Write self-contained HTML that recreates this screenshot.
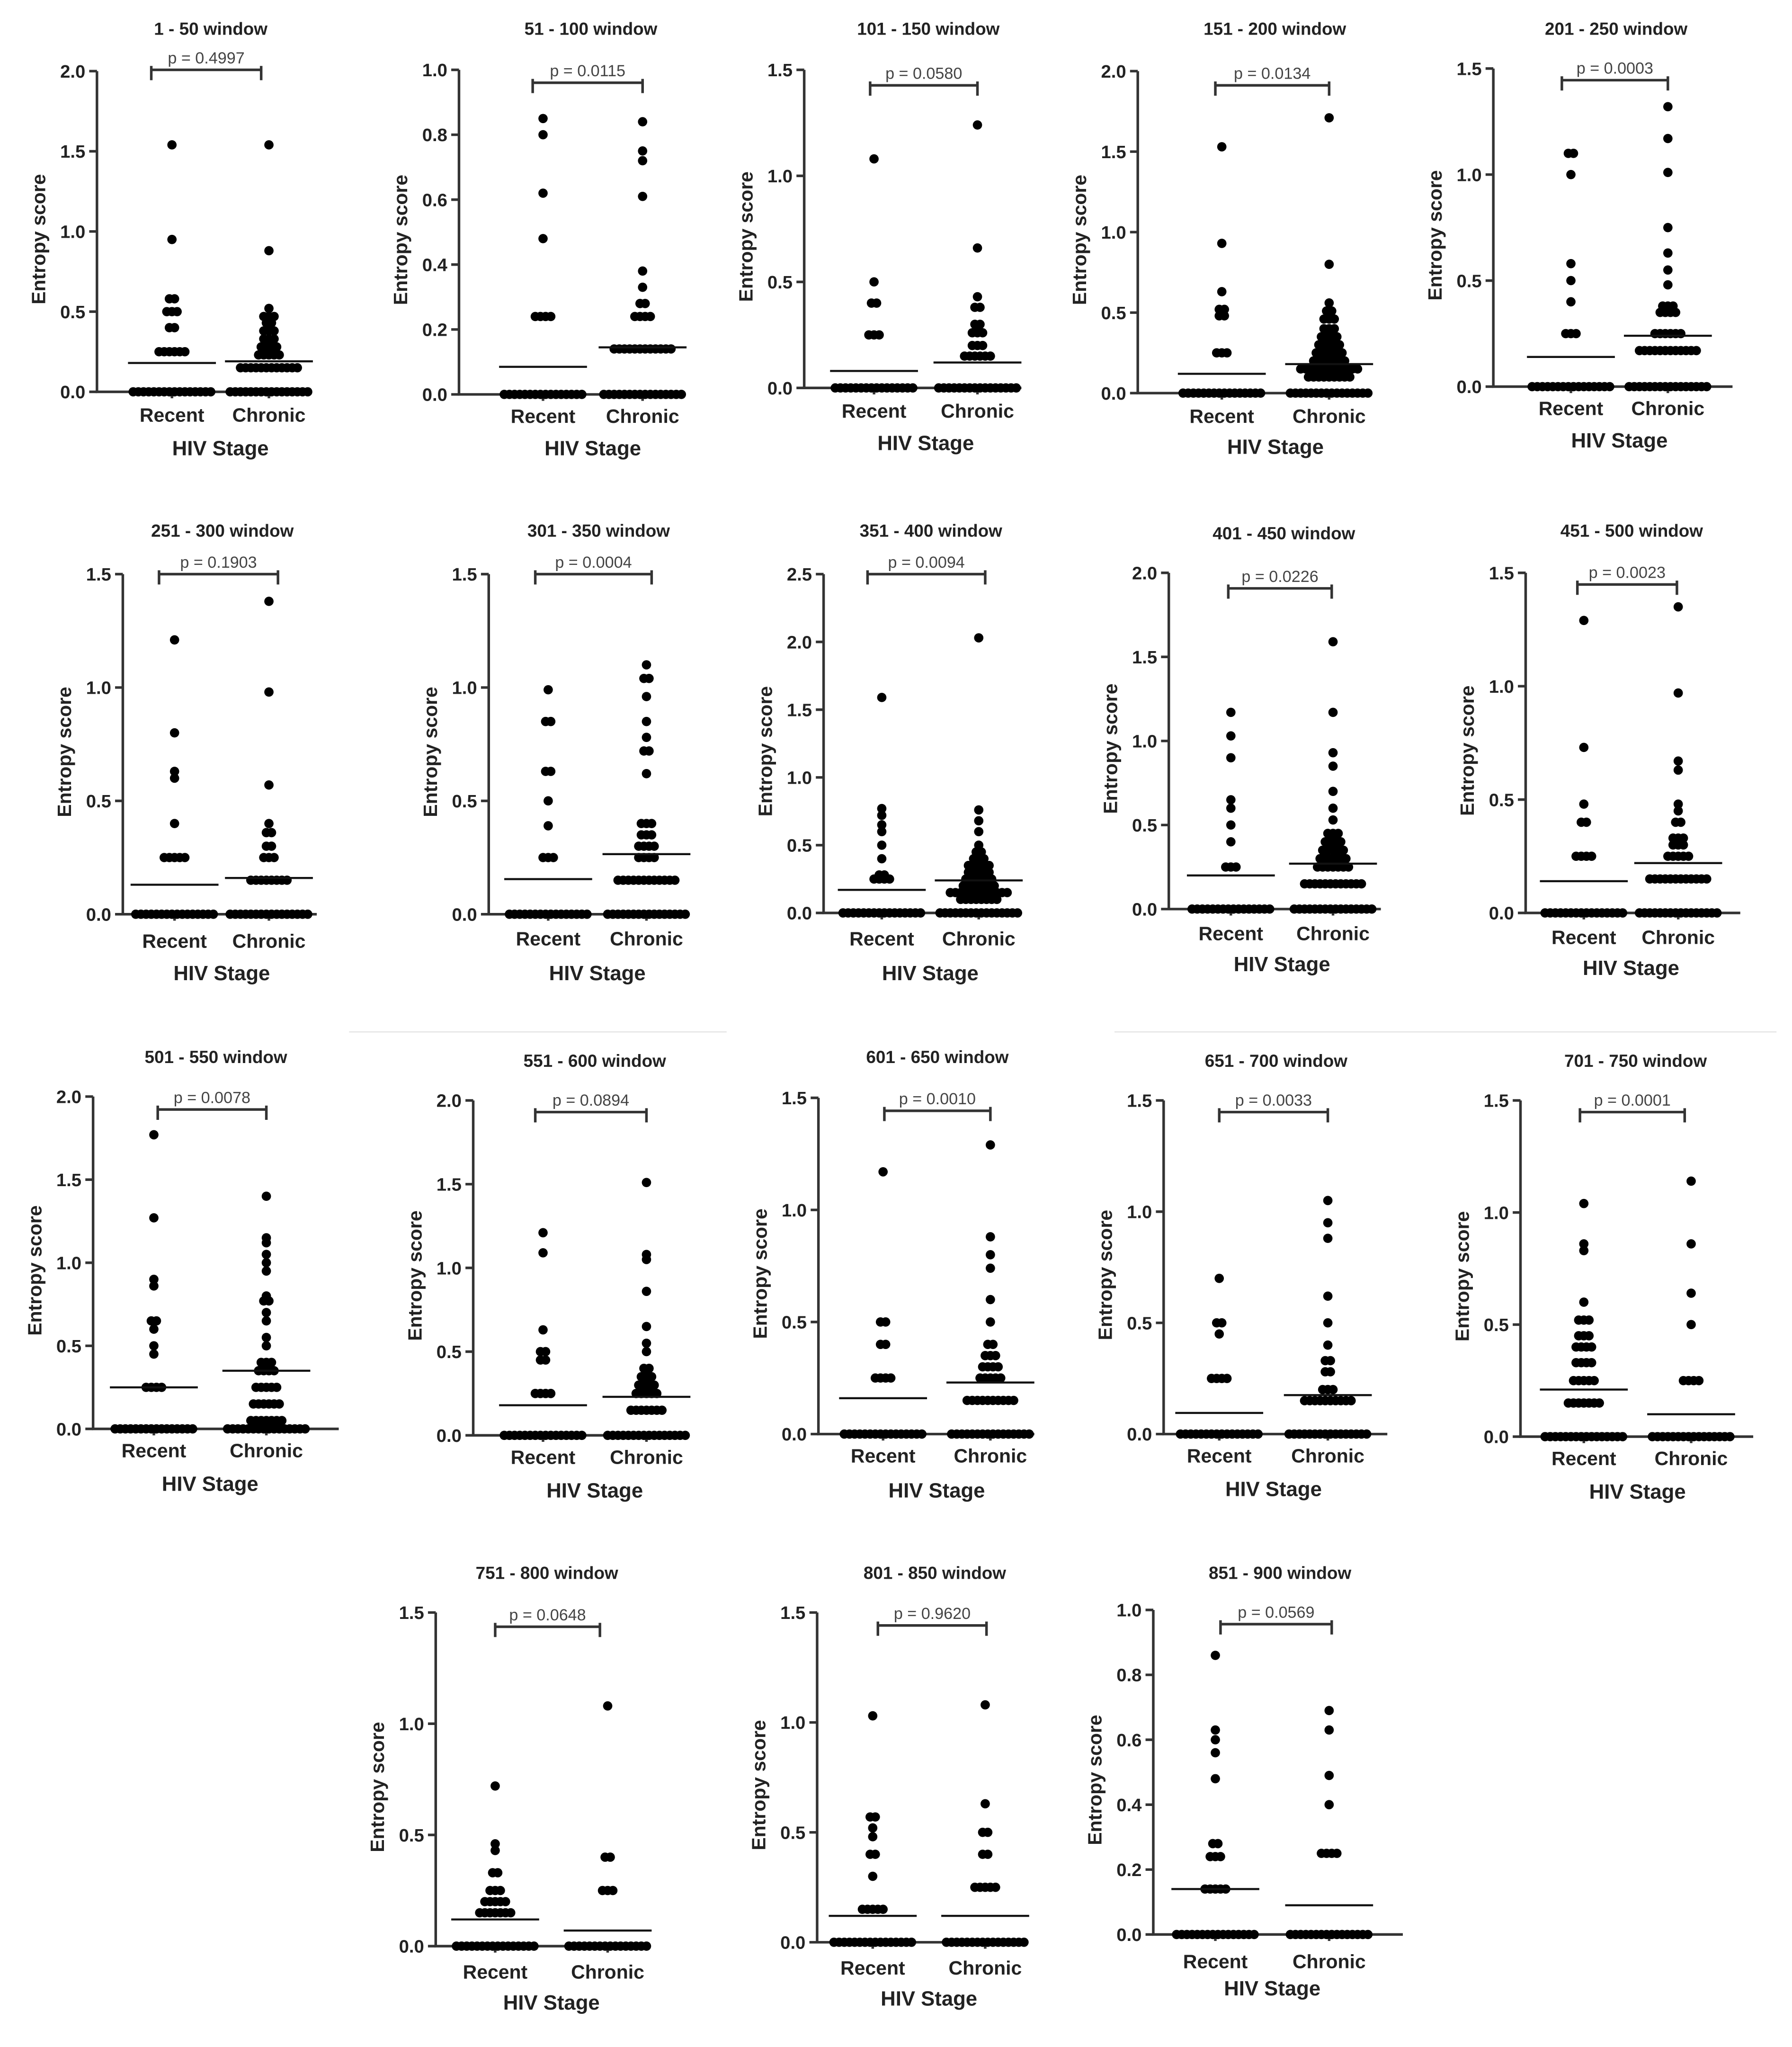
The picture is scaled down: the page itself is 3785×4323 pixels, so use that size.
<!DOCTYPE html>
<html><head><meta charset="utf-8"><style>
html,body{margin:0;padding:0;background:#fff;}
svg{display:block;font-family:"Liberation Sans",Arial,sans-serif;}
</style></head><body>
<svg id="fig" width="3785" height="4323" viewBox="0 0 1386 1583" preserveAspectRatio="none" xmlns="http://www.w3.org/2000/svg">
<rect x="0" y="0" width="1386" height="1583" fill="#fff"/>
<line x1="270" y1="798" x2="562" y2="798" stroke="#e6e6e6" stroke-width="1"/>
<line x1="862" y1="798" x2="1374" y2="798" stroke="#e6e6e6" stroke-width="1"/>
</svg>
<script>
const panelTitles=["1 - 50 window","51 - 100 window","101 - 150 window","151 - 200 window","201 - 250 window","251 - 300 window","301 - 350 window","351 - 400 window","401 - 450 window","451 - 500 window","501 - 550 window","551 - 600 window","601 - 650 window","651 - 700 window","701 - 750 window","751 - 800 window","801 - 850 window","851 - 900 window"];
const pValues=["0.4997","0.0115","0.0580","0.0134","0.0003","0.1903","0.0004","0.0094","0.0226","0.0023","0.0078","0.0894","0.0010","0.0033","0.0001","0.0648","0.9620","0.0569"];
const yMaxes=[2.0,1.0,1.5,2.0,1.5,1.5,1.5,2.5,2.0,1.5,2.0,2.0,1.5,1.5,1.5,1.5,1.5,1.0];
const yStepSizes=[0.5,0.2,0.5,0.5,0.5,0.5,0.5,0.5,0.5,0.5,0.5,0.5,0.5,0.5,0.5,0.5,0.5,0.2];
const categories=["Recent","Chronic"];
const recentVals=[
[1.54,0.95,0.58,0.5,0.4,0.25,0],
[0.85,0.80,0.62,0.48,0.24,0],
[1.08,0.5,0.4,0.25,0],
[1.53,0.93,0.63,0.52,0.48,0.25,0],
[1.1,1.0,0.58,0.5,0.4,0.25,0],
[1.21,0.8,0.63,0.6,0.4,0.25,0],
[0.99,0.85,0.63,0.5,0.39,0.25,0],
[1.59,0.77,0.72,0.65,0.6,0.5,0.4,0.28,0.25,0],
[1.17,1.03,0.9,0.65,0.6,0.5,0.4,0.25,0],
[1.29,0.73,0.48,0.4,0.25,0],
[1.77,1.27,0.9,0.86,0.65,0.6,0.5,0.45,0.25,0],
[1.21,1.09,0.63,0.5,0.45,0.25,0],
[1.17,0.5,0.4,0.25,0],
[0.7,0.5,0.45,0.25,0],
[1.04,0.86,0.83,0.6,0.52,0.45,0.4,0.33,0.25,0.15,0],
[0.72,0.46,0.43,0.33,0.25,0.2,0.15,0],
[1.03,0.57,0.52,0.48,0.4,0.3,0.15,0],
[0.86,0.63,0.6,0.56,0.48,0.28,0.24,0.14,0]];
const recentCounts=[
[1,1,2,3,2,6,16],[1,1,1,1,4,16],[1,1,2,3,16],[1,1,1,2,2,3,16],[2,1,1,1,1,3,16],[1,1,1,1,1,5,16],[1,2,2,1,1,3,16],[1,1,1,1,1,1,1,2,4,16],[1,1,1,1,1,1,1,3,16],[1,1,1,2,4,16],[1,1,1,1,2,1,1,1,4,16],[1,1,1,2,2,4,16],[1,2,2,4,16],[1,2,1,4,16],[1,1,1,1,3,3,4,4,5,7,16],[1,1,1,2,3,5,7,16],[1,2,1,1,2,1,5,16],[1,1,1,1,1,2,3,5,16]];
const chronicVals=[
[1.54,0.88,0.52,0.47,0.43,0.38,0.33,0.28,0.23,0.15,0],
[0.84,0.75,0.72,0.61,0.38,0.33,0.28,0.24,0.14,0],
[1.24,0.66,0.43,0.38,0.3,0.26,0.2,0.15,0],
[1.71,0.8,0.56,0.51,0.46,0.4,0.35,0.3,0.25,0.2,0.15,0.1,0],
[1.32,1.17,1.01,0.75,0.63,0.55,0.48,0.38,0.35,0.25,0.17,0],
[1.38,0.98,0.57,0.4,0.36,0.3,0.25,0.15,0],
[1.1,1.04,0.96,0.85,0.78,0.72,0.62,0.4,0.35,0.3,0.25,0.15,0],
[2.03,0.76,0.68,0.6,0.5,0.45,0.4,0.35,0.3,0.25,0.2,0.15,0.1,0],
[1.59,1.17,0.93,0.85,0.7,0.6,0.53,0.45,0.4,0.35,0.3,0.25,0.15,0],
[1.35,0.97,0.67,0.63,0.48,0.45,0.4,0.33,0.3,0.25,0.15,0],
[1.4,1.15,1.12,1.05,1.0,0.95,0.8,0.77,0.7,0.65,0.55,0.5,0.4,0.35,0.25,0.15,0.05,0],
[1.51,1.08,1.05,0.86,0.65,0.55,0.5,0.4,0.35,0.3,0.25,0.15,0],
[1.29,0.88,0.8,0.74,0.6,0.5,0.4,0.35,0.3,0.25,0.15,0],
[1.05,0.95,0.88,0.62,0.5,0.4,0.33,0.28,0.2,0.15,0],
[1.14,0.86,0.64,0.5,0.25,0],
[1.08,0.4,0.25,0],
[1.08,0.63,0.5,0.4,0.25,0],
[0.69,0.63,0.49,0.4,0.25,0]];
const chronicCounts=[
[1,1,1,3,2,3,3,4,5,12,16],[1,1,1,1,1,1,2,4,12,16],[1,1,1,2,2,3,3,6,16],[1,1,1,2,3,3,4,5,6,7,12,9,16],[1,1,1,1,1,1,1,3,4,6,12,16],[1,1,1,1,2,2,3,8,16],[1,2,1,1,1,2,1,3,3,4,4,12,16],[1,1,1,1,1,2,3,5,5,6,7,12,8,16],[1,1,1,1,1,1,1,3,4,5,6,7,12,16],[1,1,1,1,1,1,2,3,3,5,12,16],[1,1,1,1,1,1,1,2,1,1,1,1,3,4,5,6,7,16],[1,1,1,1,1,1,1,2,3,4,5,7,16],[1,1,1,1,1,1,2,3,4,5,10,16],[1,1,1,1,1,1,2,2,3,10,16],[1,1,1,1,4,16],[1,2,3,16],[1,1,2,2,5,16],[1,1,1,1,4,16]];
const recentMeans=[0.18,0.085,0.08,0.12,0.14,0.13,0.155,0.17,0.2,0.14,0.25,0.18,0.16,0.095,0.21,0.12,0.12,0.14];
const chronicMeans=[0.19,0.145,0.12,0.18,0.24,0.16,0.265,0.24,0.27,0.22,0.35,0.23,0.23,0.175,0.1,0.07,0.12,0.09];

// layout: [axisX, y0, yTop, xEnd, recentX, chronicX, titleX, titleY, bracketY, bx1, bx2, catY, stageY]
const layout=[
[75,303,55,233,133,208,163,22,54,117,202,321,346],
[355,305,54,525,420,497,457,22,64,412,497,322,346],
[622,300,54,790,676,756,718,22,66,673,756,318,342],
[880,304,55,1055,945,1028,986,22,66,940,1028,322,345],
[1155,299,53,1340,1215,1290,1250,22,62,1208,1290,316,340],
[95,707,444,245,135,208,172,410,444,123,215,728,752],
[378,707,444,532,424,500,463,410,444,414,504,726,752],
[637,706,444,790,682,757,720,410,444,671,762,726,752],
[904,703,443,1068,952,1031,993,412,455,950,1030,722,745],
[1180,706,443,1346,1225,1298,1262,410,452,1220,1297,725,748],
[72,1105,848,262,119,206,167,817,858,122,206,1122,1147],
[366,1110,851,530,420,500,460,820,860,414,500,1127,1152],
[633,1109,849,800,683,766,725,817,859,684,766,1126,1152],
[900,1109,851,1073,943,1027,987,820,860,943,1027,1126,1151],
[1176,1111,851,1356,1225,1308,1265,820,860,1222,1303,1128,1153],
[337,1505,1247,500,383,470,423,1216,1258,383,464,1525,1548],
[632,1502,1247,795,675,762,723,1216,1257,679,763,1522,1545],
[892,1496,1245,1085,940,1028,990,1216,1256,944,1030,1517,1537]];

const NS="http://www.w3.org/2000/svg";
const svg=document.getElementById('fig');
function mk(tag,attrs,parent,text){const e=document.createElementNS(NS,tag);for(const k in attrs)e.setAttribute(k,attrs[k]);if(text!==undefined)e.textContent=text;(parent||svg).appendChild(e);return e;}

for(let p=0;p<panelTitles.length;p++){
  const L=layout[p];
  const [ax,y0,yt,xe,rx,cx,tx,ty,by,bx1,bx2,caty,sty]=L;
  const ymax=yMaxes[p], step=yStepSizes[p];
  const yScale=v=>y0-(v/ymax)*(y0-yt);
  const g=mk('g',{});
  
  
  const t=mk('text',{x:tx,y:ty+5,'text-anchor':'middle','font-size':13.5,'font-weight':'bold',fill:'#222'},g,panelTitles[p]);
  
  
  // axes
  const ya=mk('line',{x1:ax,y1:yt,x2:ax,y2:y0,stroke:'#333','stroke-width':2},g);
  
  
  const xa=mk('line',{x1:ax-1,y1:y0,x2:xe,y2:y0,stroke:'#333','stroke-width':2},g);
  
  
  const nt=Math.round(ymax/step);
  for(let i=0;i<=nt;i++){
    const v=i*step, y=yScale(v);
    mk('line',{x1:ax-6,y1:y,x2:ax,y2:y,stroke:'#333','stroke-width':2},g);
    const tl=mk('text',{x:ax-9,y:y+5,'text-anchor':'end','font-size':14,'font-weight':'bold',fill:'#222'},g,v.toFixed(1));
    
    
  }
  [rx,cx].forEach(x=>mk('line',{x1:x,y1:y0,x2:x,y2:y0+5,stroke:'#333','stroke-width':2},g));
  const yl=mk('text',{x:0,y:0,transform:`translate(${ax-40},${(y0+yt)/2+6}) rotate(-90)`,'text-anchor':'middle','font-size':15,'font-weight':'bold',fill:'#222'},g,'Entropy score');
  
  
  [[rx,categories[0]],[cx,categories[1]]].forEach(([x,c])=>{
    const e=mk('text',{x:x,y:caty+5,'text-anchor':'middle','font-size':15,'font-weight':'bold',fill:'#222'},g,c);
    
    
  });
  const xl=mk('text',{x:(rx+cx)/2,y:sty+6,'text-anchor':'middle','font-size':16,'font-weight':'bold',fill:'#222'},g,'HIV Stage');
  
  
  // bracket
  const br=mk('path',{d:`M${bx1},${by+8}V${by}H${bx2}V${by+8}M${bx1},${by}V${by-3}M${bx2},${by}V${by-3}`,fill:'none',stroke:'#333','stroke-width':2},g);
  
  
  const pt=mk('text',{x:(bx1+bx2)/2,y:by-5,'text-anchor':'middle','font-size':12.5,fill:'#444'},g,'p = '+pValues[p]);
  
  
  // points
  const groups=[[rx,recentVals[p],recentCounts[p],recentMeans[p],'recent'],[cx,chronicVals[p],chronicCounts[p],chronicMeans[p],'chronic']];
  groups.forEach(([gx,vals,cnts,mean,nm])=>{
    vals.forEach((v,i)=>{
      const n=cnts[i], y=yScale(v);
      for(let k=0;k<n;k++){
        const x=gx+(k-(n-1)/2)*4;
        const c=mk('circle',{cx:x,cy:y,r:3.6,fill:'#000'},g);
        
        
      }
    });
    const ml=mk('line',{x1:gx-34,y1:yScale(mean),x2:gx+34,y2:yScale(mean),stroke:'#111','stroke-width':1.6},g);
    
    
  });
}
</script>
</body></html>
